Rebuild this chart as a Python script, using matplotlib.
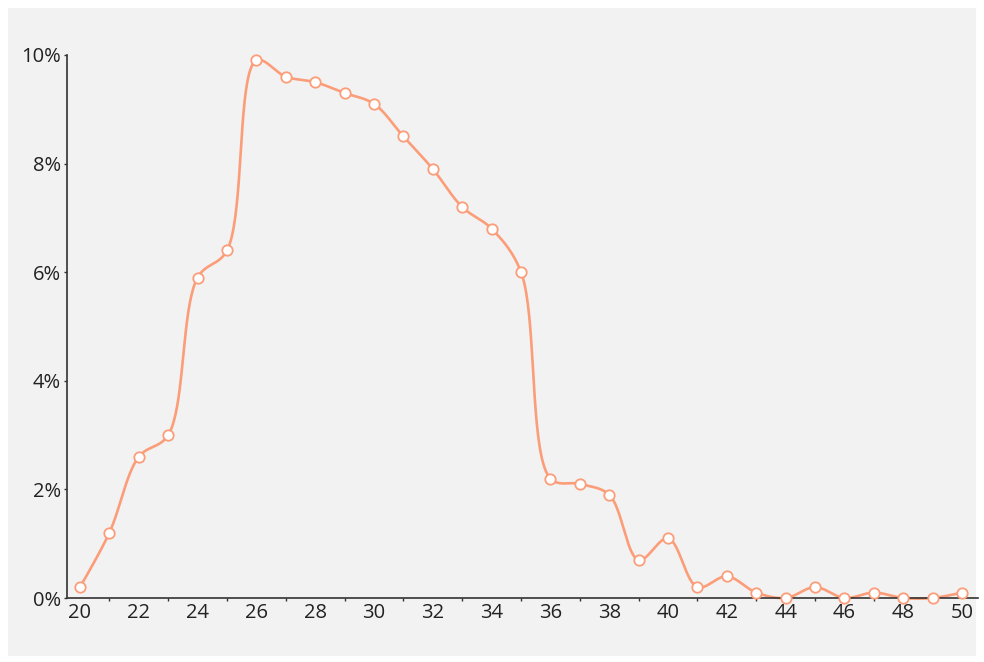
import numpy as np
import matplotlib.pyplot as plt
from matplotlib.patches import Rectangle
from matplotlib.ticker import FuncFormatter, MultipleLocator

# ages and share of values (%)
ages = [20, 21, 22, 23, 24, 25, 26, 27, 28, 29, 30, 31, 32, 33, 34, 35,
        36, 37, 38, 39, 40, 41, 42, 43, 44, 45, 46, 47, 48, 49, 50]
share = [0.2, 1.2, 2.6, 3.0, 5.9, 6.4, 9.9, 9.6, 9.5, 9.3, 9.1, 8.5, 7.9, 7.2, 6.8, 6.0,
         2.2, 2.1, 1.9, 0.7, 1.1, 0.2, 0.4, 0.1, 0.0, 0.2, 0.0, 0.1, 0.0, 0.0, 0.1]
x_ticks = list(range(20, 51, 2))
y_ticks = [0, 2, 4, 6, 8, 10]

line_color = '#fc9d79'


def catmull_rom(pts, alpha=0.5, n=40):
    # centripetal catmull-rom (like d3.curveCatmullRom), pts in pixel space
    pts = np.asarray(pts, float)
    out = [pts[:1]]
    u = np.linspace(0, 1, n)[1:, None]
    for i in range(len(pts) - 1):
        p1, p2 = pts[i], pts[i + 1]
        l12_2a = np.sum((p2 - p1) ** 2) ** alpha
        l12_a = np.sqrt(l12_2a)
        c1, c2 = p1.copy(), p2.copy()
        if i > 0:
            p0 = pts[i - 1]
            l01_2a = np.sum((p1 - p0) ** 2) ** alpha
            l01_a = np.sqrt(l01_2a)
            if l01_a > 1e-12:
                a = 2 * l01_2a + 3 * l01_a * l12_a + l12_2a
                m = 3 * l01_a * (l01_a + l12_a)
                c1 = (p1 * a - p0 * l12_2a + p2 * l01_2a) / m
        if i + 2 < len(pts):
            p3 = pts[i + 2]
            l23_2a = np.sum((p3 - p2) ** 2) ** alpha
            l23_a = np.sqrt(l23_2a)
            if l23_a > 1e-12:
                b = 2 * l23_2a + 3 * l23_a * l12_a + l12_2a
                m = 3 * l23_a * (l23_a + l12_a)
                c2 = (p2 * b + p1 * l23_2a - p3 * l12_2a) / m
        seg = ((1 - u) ** 3 * p1 + 3 * u * (1 - u) ** 2 * c1
               + 3 * u ** 2 * (1 - u) * c2 + u ** 3 * p2)
        out.append(seg)
    return np.vstack(out)


plt.rcParams['font.family'] = ['Open Sans', 'DejaVu Sans']

fig = plt.figure(figsize=(9.84, 6.62), dpi=100, facecolor='white')
bg = Rectangle((8 / 984, 6 / 662), 968 / 984, 648 / 662,
               transform=fig.transFigure, facecolor='#f2f2f2',
               edgecolor='none', zorder=-10)
fig.add_artist(bg)
ax = fig.add_axes([67 / 984, 64 / 662, 911 / 984, 543 / 662])
ax.set_facecolor('none')

ax.set_xlim(19.56, 50.54)
ax.set_ylim(0, 10)

# smooth in display space, then map back to data
disp = ax.transData.transform(np.column_stack([ages, share]))
curve = ax.transData.inverted().transform(catmull_rom(disp))
ax.plot(curve[:, 0], curve[:, 1], color=line_color, lw=1.9, clip_on=False, zorder=2)
ax.plot(ages, share, 'o', ms=7.5, mfc='white', mec=line_color, mew=1.3,
        clip_on=False, zorder=3)

ax.set_xticks(x_ticks)
ax.xaxis.set_minor_locator(MultipleLocator(1))
ax.set_yticks(y_ticks)
ax.yaxis.set_major_formatter(FuncFormatter(lambda v, p: f'{v:.0f}%'))

for side in ['top', 'right']:
    ax.spines[side].set_visible(False)
for side in ['left', 'bottom']:
    ax.spines[side].set_color('#333333')
    ax.spines[side].set_linewidth(1.2)

ax.tick_params(axis='both', which='both', direction='out', color='#333333',
               labelsize=14.5, labelcolor='#222222', length=2.5, width=1)
ax.tick_params(axis='x', which='major', length=0, pad=3.5)
ax.tick_params(axis='y', pad=2)

fig.savefig('out.png', dpi=100, facecolor='white')
